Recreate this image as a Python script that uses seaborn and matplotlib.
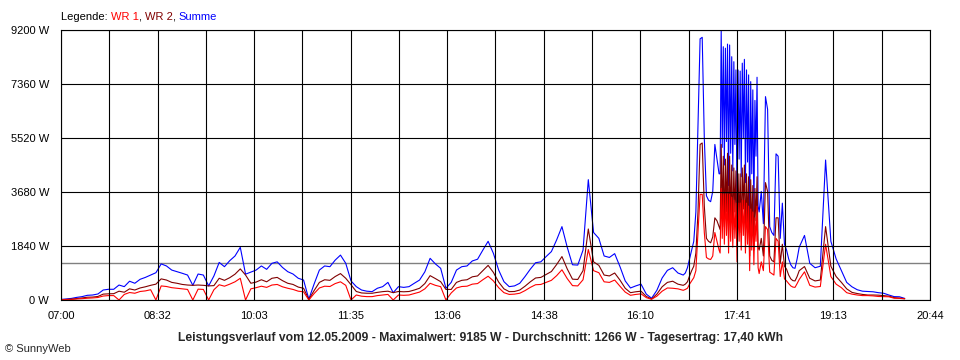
import numpy as np
import pandas as pd
import matplotlib
matplotlib.use("Agg")
import matplotlib.pyplot as plt
import seaborn as sns

# sample times in minutes after midnight
# 5 min steps, 2 min in the busy afternoon, 1 min where the inverters flicker
minutes = np.concatenate([np.arange(420, 1010, 5),
                          np.arange(1010, 1045, 2),
                          np.arange(1045, 1082, 1),
                          np.arange(1082, 1121, 2),
                          np.arange(1125, 1221, 5)])

# Summe (W)
summe = [
    20, 35, 55, 90, 115, 160, 170, 205, 340, 365, 365, 510,          # 07:00-07:55
    455, 640, 570, 705, 770, 850, 930, 1230, 1160, 1020, 965, 910,   # 08:00-08:55
    850, 500, 885, 850, 480, 820, 1280, 1135, 1340, 1500, 1795, 880,  # 09:00-09:55
    950, 1020, 1160, 1045, 1250, 1300, 1110, 965, 885, 740, 680, 30,  # 10:00-10:55
    545, 1020, 1160, 1135, 1360, 1530, 1250, 650, 455, 340, 300, 285,  # 11:00-11:55
    400, 455, 600, 250, 455, 430, 455, 570, 680, 960, 1420, 1230,     # 12:00-12:55
    1080, 400, 600, 1020, 1135, 1160, 1330, 1390, 1700, 2000, 1590, 1020,  # 13:00-13:55
    625, 455, 480, 570, 800, 1050, 1270, 1300, 1480, 1650, 2050, 2500,     # 14:00-14:55
    1800, 1200, 1190, 1700, 4100, 2300, 2100, 1500, 1450, 1580, 1140, 650,  # 15:00-15:55
    410, 480, 540, 200, 60, 330, 750, 1010, 1100, 920,                # 16:00-16:45
    850, 920, 1100, 1400, 1700, 2000, 3000, 6000, 8900, 8950,         # 16:50-17:08
    5500, 3550, 3400, 3350, 3700, 5300, 4800, 4300,                   # 17:10-17:24
    4300, 9185, 5200, 8630, 4600, 8580, 5400, 8720, 3900, 8690,       # 17:25-17:34
    5000, 8290, 4400, 8120, 5300, 7840, 3200, 7840, 4800, 7800,       # 17:35-17:44
    4200, 8070, 5500, 8200, 4000, 7840, 4700, 7670, 2600, 7440,       # 17:45-17:54
    4300, 7160, 3000, 6800, 4900, 7590, 3200,                         # 17:55-18:01
    3000, 3700, 2600, 6930, 6500, 2500, 2300, 2200, 4980, 4900,       # 18:02-18:20
    2100, 3300, 1900, 1700, 1400, 1200, 1100, 1080, 1400, 1800,       # 18:22-18:40
    2200, 1250, 1100, 1150, 4770, 2000, 1400, 1000, 600, 450,         # 18:45-19:30
    350, 300, 290, 280, 250, 230, 170, 115, 110, 55,                  # 19:35-20:20
]

# WR 2 (W)
wr2 = [
    10, 20, 30, 50, 70, 95, 100, 120, 200, 210, 215, 300,
    265, 380, 340, 410, 450, 500, 540, 720, 680, 600, 570, 530,
    510, 500, 510, 500, 480, 490, 740, 670, 760, 880, 1060, 850,
    570, 610, 690, 620, 740, 770, 660, 570, 530, 440, 400, 20,
    320, 600, 690, 670, 800, 900, 740, 520, 290, 240, 230, 230,
    260, 285, 300, 250, 290, 280, 290, 340, 400, 560, 830, 730,
    625, 360, 360, 600, 670, 690, 790, 820, 1000, 1180, 940, 610,
    380, 285, 290, 340, 470, 620, 750, 770, 870, 970, 1210, 1480,
    1060, 710, 700, 1000, 2420, 1300, 1180, 850, 820, 920, 680, 400,
    250, 280, 300, 120, 35, 200, 450, 600, 640, 540,
    500, 540, 620, 820, 1000, 1150, 1600, 3000, 5300, 5350,
    3200, 2100, 2000, 1950, 2150, 2800, 2700, 2500,
    2400, 5300, 2900, 4900, 2500, 4800, 3000, 5000, 2100, 4900,
    2800, 4600, 2400, 4500, 3000, 4400, 1800, 4300, 2700, 4300,
    2300, 4500, 3100, 4600, 2200, 4300, 2600, 4200, 1500, 4100,
    2400, 3900, 1700, 3800, 2700, 4200, 1800,
    1700, 2100, 1500, 4000, 3700, 1500, 1350, 1300, 2800, 2800,
    1250, 1900, 1150, 1050, 850, 720, 660, 650, 800, 1000,
    1140, 740, 650, 680, 2500, 1150, 800, 600, 380, 260,
    220, 190, 170, 170, 165, 150, 130, 80, 65, 45,
]

# WR 1 (W)
wr1 = [
    10, 15, 20, 35, 45, 60, 70, 85, 135, 150, 150, 0,
    190, 255, 230, 290, 310, 350, 0, 480, 460, 420, 400, 380,
    360, 0, 370, 360, 0, 350, 520, 470, 540, 620, 740, 0,
    380, 420, 470, 430, 510, 530, 450, 400, 360, 300, 280, 0,
    220, 410, 470, 460, 560, 620, 500, 0, 170, 130, 115, 115,
    150, 170, 190, 0, 170, 160, 170, 220, 270, 380, 570, 500,
    455, 0, 240, 410, 460, 470, 540, 560, 690, 810, 650, 420,
    250, 190, 200, 230, 320, 430, 520, 530, 600, 670, 830, 1030,
    730, 490, 480, 690, 1720, 1000, 930, 620, 600, 680, 470, 270,
    160, 190, 210, 80, 25, 130, 300, 410, 400, 380,
    330, 360, 400, 540, 650, 760, 1000, 2300, 3600, 3600,
    2300, 1450, 1400, 1380, 1500, 2300, 2000, 1700,
    1600, 3800, 2100, 3600, 1900, 3600, 2200, 3600, 1600, 3600,
    2000, 3500, 1800, 3400, 2100, 3300, 1300, 3300, 2000, 3300,
    1700, 3400, 2200, 3400, 1600, 3300, 1900, 3200, 1000, 3100,
    1700, 3000, 1200, 2800, 2000, 3200, 1100,
    900, 1300, 1000, 2500, 2400, 950, 900, 850, 2100, 2000,
    800, 1300, 720, 650, 560, 480, 440, 430, 560, 700,
    960, 500, 440, 460, 1900, 800, 540, 420, 250, 200,
    170, 150, 150, 140, 120, 115, 110, 60, 55, 40,
]

x_start, x_end = 420, 1244          # 07:00 .. 20:44
x_tick_labels = ['07:00', '08:32', '10:03', '11:35', '13:06',
                 '14:38', '16:10', '17:41', '19:13', '20:44']
y_ticks = [0, 1840, 3680, 5520, 7360, 9200]
mean_power = 1266
title = ('Leistungsverlauf vom 12.05.2009 - Maximalwert: 9185 W - '
         'Durchschnitt: 1266 W - Tagesertrag: 17,40 kWh')
legend_parts = ['Legende: ', 'WR 1', ', ', 'WR 2', ', ', 'Summe']
legend_colors = ['black', '#ff0000', 'black', '#800000', 'black', '#0000ff']
palette = {'Summe': '#0000ff', 'WR 2': '#800000', 'WR 1': '#ff0000'}

df = pd.DataFrame({'minute': minutes, 'Summe': summe, 'WR 2': wr2, 'WR 1': wr1})
long_df = df.melt('minute', var_name='Serie', value_name='Leistung')

sns.set_style('white')
plt.rcParams['font.family'] = ['Liberation Sans', 'DejaVu Sans']
plt.rcParams['font.size'] = 8

fig = plt.figure(figsize=(9.6, 3.6), dpi=100)
ax = fig.add_axes([61 / 960, 60 / 360, 869 / 960, 270 / 360])

ax.axhline(mean_power, color='#808080', lw=1.0, zorder=1)
sns.lineplot(data=long_df, x='minute', y='Leistung', hue='Serie',
             hue_order=['Summe', 'WR 2', 'WR 1'], palette=palette,
             estimator=None, linewidth=0.8, legend=False, ax=ax)

ax.set_xlim(x_start, x_end)
ax.set_ylim(0, 9200)
ax.set_xticks(np.linspace(x_start, x_end, len(x_tick_labels)))
ax.set_xticks(np.linspace(x_start, x_end, 2 * len(x_tick_labels) - 1), minor=True)
ax.set_xticklabels(x_tick_labels)
ax.set_yticks(y_ticks)
ax.set_yticklabels([f'{v} W' for v in y_ticks])
ax.set_xlabel('')
ax.set_ylabel('')

ax.set_axisbelow(False)
ax.grid(True, which='both', color='black', lw=0.8)
ax.tick_params(which='both', direction='out', length=4.5, width=0.8,
               color='black', labelsize=8, labelcolor='black')
ax.tick_params(axis='x', pad=3.5)
ax.tick_params(axis='y', pad=4)
for sp in ax.spines.values():
    sp.set_color('black')
    sp.set_linewidth(0.8)

fig.text(480 / 960, 1 - 338 / 360, title, ha='center', va='center',
         fontsize=8.7, fontweight='bold')
fig.text(5 / 960, 1 - 349 / 360, '© SunnyWeb', ha='left', va='center', fontsize=8)

renderer = fig.canvas.get_renderer()
x_px = 61
for part, col in zip(legend_parts, legend_colors):
    t = fig.text(x_px / 960, 1 - 17 / 360, part, color=col, ha='left',
                 va='center', fontsize=8)
    x_px += t.get_window_extent(renderer).width

fig.savefig('out.png', dpi=100)
